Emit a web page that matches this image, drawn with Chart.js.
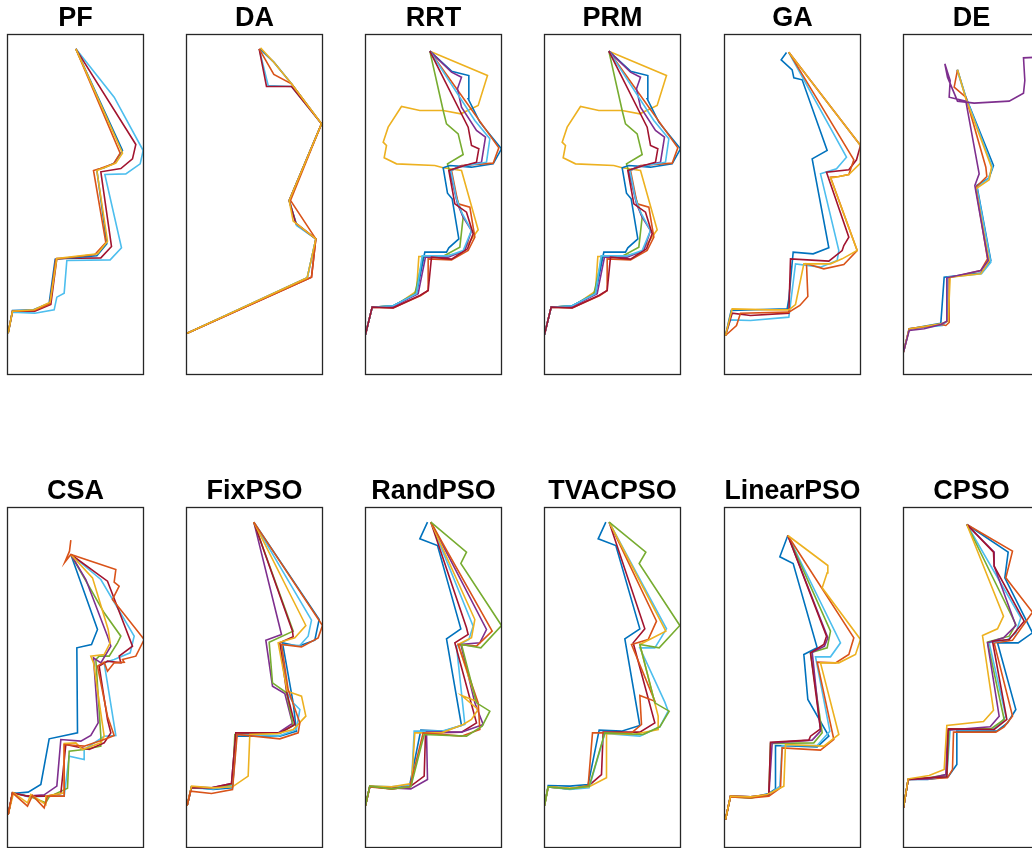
<!DOCTYPE html>
<html>
<head>
<meta charset="utf-8">
<script src="https://cdn.jsdelivr.net/npm/chart.js@4/dist/chart.umd.min.js"></script>
<style>
  html, body { margin: 0; padding: 0; background: #fff; overflow: hidden; width: 1032px; height: 848px; }
  .cell { position: absolute; }
</style>
</head>
<body>
<script>
// Planned routes per algorithm; each array is a polyline of x,y pairs in map units
// (map is 408 wide by 1020 tall, y grows downward).

// PF
const PF_sky    = [12,908, 25,845, 92,848, 150,838, 158,800, 180,788, 188,690, 318,688, 352,652, 302,432, 365,430, 408,400, 417,360, 330,200, 215,55];
const PF_wine   = [12,908, 25,842, 92,842, 140,822, 158,684, 290,682, 322,648, 290,424, 350,414, 385,385, 395,342, 215,55];
const PF_blue   = [12,908, 25,840, 88,838, 135,818, 153,686, 278,676, 308,640, 278,418, 300,412, 330,398, 355,360, 215,55];
const PF_orange = [12,908, 25,842, 90,840, 137,820, 155,686, 272,672, 305,636, 268,420, 288,414, 328,400, 348,368, 215,55];
const PF_yellow = [12,908, 25,842, 90,838, 138,815, 158,684, 280,670, 310,632, 278,420, 300,412, 335,398, 355,368, 215,55];

// DA
const DA_blue   = [12,908, 372,742, 398,625, 340,582, 318,510, 415,280, 325,160, 272,95, 230,55];
const DA_sky    = [12,908, 372,744, 398,625, 340,585, 318,510, 415,280, 325,168, 255,165, 228,55];
const DA_wine   = [12,908, 385,740, 398,625, 338,578, 318,510, 415,280, 325,168, 250,168, 228,55];
const DA_orange = [12,908, 385,740, 398,625, 322,510, 415,280, 325,160, 272,132, 228,55];
const DA_yellow = [12,908, 372,742, 398,625, 330,572, 318,510, 415,280, 325,160, 272,95, 232,52];

// RRT (PRM produced the same routes)
const RRT_yellow = [12,912, 32,830, 100,826, 165,782, 172,678, 232,678, 300,668, 350,598, 300,420, 245,412, 220,405, 105,400, 68,382, 75,345, 65,335, 80,290, 120,228, 175,240, 245,240, 298,250, 350,225, 378,135, 205,62];
const RRT_green  = [12,912, 32,830, 95,826, 160,790, 185,680, 240,680, 295,650, 305,560, 285,500, 258,400, 305,372, 290,310, 255,280, 245,240, 205,62];
const RRT_blue   = [12,912, 32,830, 95,826, 165,790, 190,665, 255,665, 262,652, 292,625, 272,505, 258,488, 245,412, 265,405, 330,410, 395,400, 420,355, 355,275, 320,205, 322,135, 270,122, 205,62];
const RRT_orange = [12,912, 32,830, 95,832, 178,795, 200,780, 200,685, 270,688, 320,660, 340,620, 325,530, 290,520, 270,420, 300,405, 395,398, 412,352, 205,62];
const RRT_purple = [12,912, 32,830, 95,828, 170,790, 192,680, 260,680, 310,660, 330,600, 305,560, 288,520, 265,420, 295,408, 360,395, 372,320, 345,300, 300,230, 288,175, 300,140, 270,125, 205,62];
const RRT_sky    = [12,912, 32,830, 95,826, 165,790, 182,676, 260,676, 305,660, 330,600, 300,545, 285,505, 268,420, 300,408, 375,395, 385,325, 340,270, 205,62];
const RRT_wine   = [12,912, 32,830, 95,832, 175,795, 200,780, 210,680, 270,686, 318,655, 335,610, 315,545, 280,520, 262,420, 310,405, 345,395, 352,355, 330,345, 320,290, 205,62];

// GA
const GA_blue   = [15,915, 32,840, 200,835, 205,805, 218,665, 278,670, 325,652, 275,385, 320,360, 245,148, 220,142, 215,118, 182,88, 198,66];
const GA_sky    = [15,915, 30,868, 90,870, 205,860, 210,820, 225,700, 300,710, 350,690, 355,660, 300,430, 348,415, 378,380, 205,66];
const GA_wine   = [15,915, 35,848, 90,855, 205,848, 210,685, 325,692, 365,660, 370,645, 385,620, 318,425, 385,418, 408,388, 420,345, 205,65];
const GA_orange = [15,915, 48,885, 60,848, 205,845, 238,825, 262,798, 258,700, 310,715, 370,702, 410,660, 330,440, 355,438, 385,432, 400,388, 205,65];
const GA_yellow = [15,915, 35,835, 150,838, 205,838, 225,822, 250,700, 330,700, 365,685, 410,660, 330,442, 345,440, 385,432, 420,398, 420,345, 205,65];

// DE
const DE_blue   = [18,965, 35,895, 130,878, 140,740, 250,728, 280,690, 238,465, 275,442, 288,405, 205,200, 180,118];
const DE_sky    = [18,965, 35,895, 135,885, 150,870, 150,740, 252,730, 280,695, 238,470, 272,445, 285,410, 205,200, 178,118];
const DE_orange = [18,965, 35,895, 130,882, 145,885, 155,876, 155,742, 250,720, 270,685, 235,470, 268,438, 265,410, 205,200, 170,170, 180,118];
const DE_yellow = [18,965, 35,895, 130,880, 152,872, 158,740, 250,730, 275,692, 235,475, 275,448, 282,410, 205,205, 180,118];
const DE_purple = [18,965, 35,900, 80,895, 130,882, 148,872, 148,742, 250,720, 272,690, 232,465, 245,430, 205,212, 155,200, 158,150, 142,100, 150,140, 180,212, 230,218, 335,212, 378,188, 382,150, 378,82, 426,80];

// CSA
const CSA_blue   = [12,935, 25,872, 72,868, 110,845, 135,708, 220,690, 218,435, 262,425, 280,380, 200,155];
const CSA_sky    = [12,935, 25,870, 75,882, 120,880, 180,880, 195,760, 240,770, 240,740, 300,700, 335,698, 300,480, 330,470, 378,450, 390,400, 290,230, 200,155];
const CSA_green  = [12,935, 25,870, 75,880, 125,900, 135,882, 190,856, 195,745, 240,740, 290,730, 290,700, 275,470, 285,460, 315,460, 340,420, 350,400, 300,330, 200,155];
const CSA_purple = [12,935, 25,870, 72,880, 120,876, 158,850, 170,710, 230,715, 260,698, 282,660, 268,465, 290,480, 305,455, 320,430, 310,400, 245,230, 200,155];
const CSA_wine   = [12,935, 25,870, 70,880, 125,880, 170,872, 185,725, 255,740, 300,720, 320,690, 310,650, 285,490, 310,475, 350,480, 345,460, 385,430, 310,235, 200,155];
const CSA_yellow = [12,935, 28,870, 70,900, 80,875, 125,905, 125,880, 180,870, 180,722, 215,720, 235,740, 290,720, 300,700, 268,480, 260,460, 300,455, 318,420, 312,380, 265,225, 200,155];
const CSA_orange = [12,935, 25,870, 70,910, 85,878, 120,915, 130,880, 180,880, 180,725, 240,730, 300,710, 330,698, 310,640, 280,490, 300,478, 310,505, 330,480, 360,478, 355,470, 395,460, 420,410, 325,290, 345,250, 330,238, 335,200, 200,155, 182,178, 196,145, 200,112];

// FixPSO
const Fix_purple = [12,908, 25,852, 85,855, 145,842, 158,690, 285,690, 328,662, 305,572, 268,550, 248,412, 295,395, 212,58];
const Fix_green  = [12,908, 25,852, 90,858, 148,845, 155,695, 290,692, 330,668, 310,570, 268,540, 258,418, 330,385, 212,58];
const Fix_blue   = [12,908, 25,852, 90,860, 148,855, 160,700, 290,700, 340,685, 330,600, 298,420, 345,430, 395,412, 408,350, 212,58];
const Fix_sky    = [12,908, 25,855, 90,858, 148,850, 160,695, 285,700, 340,680, 350,620, 330,600, 312,570, 295,425, 350,428, 375,400, 385,352, 212,58];
const Fix_wine   = [12,908, 25,855, 85,855, 145,842, 158,690, 290,690, 335,665, 310,565, 290,420, 330,402, 328,385, 212,58];
const Fix_yellow = [12,908, 25,850, 90,855, 148,852, 195,820, 200,695, 285,692, 330,680, 368,640, 355,580, 312,565, 285,420, 335,405, 368,368, 212,58];
const Fix_orange = [12,908, 22,865, 85,872, 148,860, 162,695, 290,708, 345,690, 350,660, 315,560, 295,425, 355,432, 405,405, 418,368, 212,58];

// RandPSO
const Rand_blue   = [12,908, 25,850, 90,855, 145,845, 178,682, 245,685, 300,668, 255,408, 298,378, 228,128, 175,108, 198,58];
const Rand_sky    = [12,908, 25,850, 90,852, 150,845, 158,685, 240,685, 310,665, 285,430, 322,410, 335,370, 208,58];
const Rand_wine   = [12,908, 25,850, 90,858, 145,852, 188,820, 192,690, 300,688, 345,660, 280,420, 320,395, 315,375, 208,58];
const Rand_purple = [12,908, 25,852, 90,855, 148,858, 198,830, 195,688, 300,688, 365,665, 340,600, 298,425, 355,420, 375,380, 208,58];
const Rand_yellow = [12,908, 25,850, 90,852, 150,842, 160,690, 240,690, 305,665, 330,650, 350,620, 300,578, 345,595, 290,425, 330,405, 340,350, 208,58];
const Rand_orange = [12,908, 25,852, 90,858, 145,852, 185,690, 300,700, 355,680, 350,600, 290,425, 345,430, 392,385, 208,58];
const Rand_green  = [12,908, 25,850, 90,858, 148,852, 188,695, 315,700, 362,670, 385,625, 345,600, 300,425, 358,435, 420,368, 298,182, 315,148, 208,58];

// TVACPSO
const TV_blue   = [14,908, 25,848, 90,850, 145,845, 178,682, 245,685, 300,668, 255,408, 300,378, 228,128, 175,108, 198,58];
const TV_wine   = [14,908, 25,852, 90,858, 145,850, 185,815, 190,688, 300,688, 345,660, 280,420, 315,378, 208,58];
const TV_orange = [14,908, 25,852, 90,858, 145,848, 158,690, 275,690, 305,665, 300,578, 345,595, 275,425, 325,410, 350,355, 208,58];
const TV_sky    = [14,908, 25,852, 90,860, 148,855, 195,692, 300,700, 360,672, 385,625, 375,598, 300,435, 345,435, 380,378, 208,58];
const TV_yellow = [14,908, 25,852, 90,856, 148,852, 200,825, 200,692, 280,695, 355,680, 355,640, 300,425, 378,385, 208,58];
const TV_green  = [14,908, 25,852, 90,858, 148,850, 195,690, 310,695, 360,672, 388,625, 345,600, 300,425, 358,435, 420,368, 298,182, 318,148, 208,58];

// LinearPSO
const Lin_blue   = [15,950, 30,880, 90,885, 145,872, 165,858, 165,728, 290,732, 325,700, 262,590, 250,455, 290,435, 218,182, 178,162, 202,98];
const Lin_sky    = [15,950, 30,880, 90,882, 145,876, 178,850, 185,728, 290,728, 328,685, 285,462, 330,462, 360,420, 202,98];
const Lin_green  = [15,950, 30,882, 92,885, 145,875, 150,722, 280,720, 305,690, 270,450, 320,435, 330,385, 202,98];
const Lin_purple = [15,950, 30,880, 90,882, 145,878, 155,720, 275,712, 300,685, 275,448, 312,430, 322,405, 202,98];
const Lin_wine   = [15,950, 30,880, 90,882, 145,875, 150,718, 265,712, 270,700, 300,678, 270,450, 310,425, 318,400, 202,98];
const Lin_orange = [15,950, 30,882, 90,885, 145,880, 180,855, 185,735, 300,742, 340,710, 290,478, 345,480, 385,455, 400,405, 202,98];
const Lin_yellow = [15,950, 30,880, 90,882, 140,875, 190,850, 195,725, 310,730, 355,695, 300,480, 355,480, 405,455, 420,410, 305,255, 320,210, 322,188, 202,98];

// CPSO
const CP_blue   = [18,915, 32,830, 90,830, 152,822, 178,785, 178,685, 298,685, 330,660, 355,620, 300,420, 362,420, 405,390, 322,225, 332,148, 208,65];
const CP_orange = [18,915, 32,830, 90,828, 150,825, 165,800, 168,688, 295,688, 320,672, 345,640, 290,420, 345,412, 405,328, 325,225, 345,145, 208,65];
const CP_sky    = [18,915, 32,830, 90,828, 148,818, 158,680, 285,680, 310,660, 325,640, 275,420, 330,410, 355,390, 370,345, 208,65];
const CP_green  = [18,915, 32,830, 95,825, 148,815, 155,678, 280,678, 320,650, 270,418, 335,400, 355,365, 208,65];
const CP_purple = [18,915, 32,830, 90,828, 145,815, 150,682, 278,672, 305,640, 270,420, 318,405, 355,368, 290,190, 290,148, 208,65];
const CP_wine   = [18,915, 32,830, 90,825, 148,822, 152,678, 290,680, 328,650, 285,415, 335,410, 380,355, 290,190, 288,148, 208,65];
const CP_yellow = [18,915, 32,828, 95,818, 140,800, 148,668, 258,656, 288,622, 255,398, 300,378, 318,340, 208,65];

// Line colours
const COLORS = {
  blue: '#0072BD', orange: '#D95319', yellow: '#EDB120', purple: '#7E2F8E',
  green: '#77AC30', sky: '#4DBEEE', wine: '#A2142F'
};

// Panel titles, routes (drawn in listed order, later on top) and map window origin
const titles = ['PF', 'DA', 'RRT', 'PRM', 'GA', 'DE', 'CSA', 'FixPSO', 'RandPSO', 'TVACPSO', 'LinearPSO', 'CPSO'];
const routes = [
  [[PF_sky,'sky'],[PF_wine,'wine'],[PF_blue,'blue'],[PF_orange,'orange'],[PF_yellow,'yellow']],
  [[DA_blue,'blue'],[DA_sky,'sky'],[DA_wine,'wine'],[DA_orange,'orange'],[DA_yellow,'yellow']],
  [[RRT_yellow,'yellow'],[RRT_green,'green'],[RRT_blue,'blue'],[RRT_orange,'orange'],[RRT_purple,'purple'],[RRT_sky,'sky'],[RRT_wine,'wine']],
  [[RRT_yellow,'yellow'],[RRT_green,'green'],[RRT_blue,'blue'],[RRT_orange,'orange'],[RRT_purple,'purple'],[RRT_sky,'sky'],[RRT_wine,'wine']],
  [[GA_blue,'blue'],[GA_sky,'sky'],[GA_wine,'wine'],[GA_orange,'orange'],[GA_yellow,'yellow']],
  [[DE_blue,'blue'],[DE_sky,'sky'],[DE_orange,'orange'],[DE_yellow,'yellow'],[DE_purple,'purple']],
  [[CSA_blue,'blue'],[CSA_sky,'sky'],[CSA_green,'green'],[CSA_purple,'purple'],[CSA_wine,'wine'],[CSA_yellow,'yellow'],[CSA_orange,'orange']],
  [[Fix_purple,'purple'],[Fix_green,'green'],[Fix_blue,'blue'],[Fix_sky,'sky'],[Fix_wine,'wine'],[Fix_yellow,'yellow'],[Fix_orange,'orange']],
  [[Rand_blue,'blue'],[Rand_sky,'sky'],[Rand_wine,'wine'],[Rand_purple,'purple'],[Rand_yellow,'yellow'],[Rand_orange,'orange'],[Rand_green,'green']],
  [[TV_blue,'blue'],[TV_wine,'wine'],[TV_orange,'orange'],[TV_sky,'sky'],[TV_yellow,'yellow'],[TV_green,'green']],
  [[Lin_blue,'blue'],[Lin_sky,'sky'],[Lin_green,'green'],[Lin_purple,'purple'],[Lin_wine,'wine'],[Lin_orange,'orange'],[Lin_yellow,'yellow']],
  [[CP_blue,'blue'],[CP_orange,'orange'],[CP_sky,'sky'],[CP_green,'green'],[CP_purple,'purple'],[CP_wine,'wine'],[CP_yellow,'yellow']]
];
const mapX0 = [10, 10, 12, 12, 12, 18, 10, 10, 12, 14, 12, 18];
const mapY0 = [12, 12, 12, 12, 12, 12, 14, 14, 14, 14, 14, 14];
const MAP_W = 408, MAP_H = 1020;

// Page layout of the 2 x 6 grid (canvas origins, px)
const colLeft = [-13, 166, 345, 524, 704, 883];
const rowTop = [0, 473];
const CANVAS_W = 177, CANVAS_H = 376;

// Box around each map area
const frame = {
  id: 'frame',
  afterDraw(chart) {
    const a = chart.chartArea, ctx = chart.ctx;
    ctx.save();
    ctx.strokeStyle = '#262626';
    ctx.lineWidth = 1.3;
    ctx.strokeRect(a.left, a.top, a.right - a.left, a.bottom - a.top);
    ctx.restore();
  }
};

function toPoints(flat) {
  const pts = [];
  for (let i = 0; i < flat.length; i += 2) pts.push({ x: flat[i], y: flat[i + 1] });
  return pts;
}

titles.forEach((title, k) => {
  const col = k % 6, row = Math.floor(k / 6);
  const cell = document.createElement('div');
  cell.className = 'cell';
  cell.style.left = colLeft[col] + 'px';
  cell.style.top = rowTop[row] + 'px';
  const cv = document.createElement('canvas');
  cv.width = CANVAS_W; cv.height = CANVAS_H;
  cv.style.width = CANVAS_W + 'px'; cv.style.height = CANVAS_H + 'px';
  cell.appendChild(cv);
  document.body.appendChild(cell);

  // Chart.js paints dataset 0 last, so reverse to keep the listed stacking
  const datasets = routes[k].map(([flat, c]) => ({
    data: toPoints(flat),
    showLine: true,
    borderColor: COLORS[c],
    backgroundColor: COLORS[c],
    borderWidth: 1.6,
    pointRadius: 0,
    tension: 0,
    fill: false
  })).reverse();

  new Chart(cv, {
    type: 'scatter',
    data: { datasets },
    options: {
      responsive: false,
      animation: false,
      devicePixelRatio: 1,
      events: [],
      layout: { autoPadding: false, padding: { left: 20.5, right: 20.5, top: 0, bottom: 1.5 } },
      scales: {
        x: { type: 'linear', display: false, min: mapX0[k], max: mapX0[k] + MAP_W },
        y: { type: 'linear', display: false, reverse: true, min: mapY0[k], max: mapY0[k] + MAP_H }
      },
      plugins: {
        legend: { display: false },
        tooltip: { enabled: false },
        title: {
          display: true,
          text: title,
          color: '#000',
          font: { family: "'Liberation Sans', Arial, sans-serif", size: 27, weight: 'bold', lineHeight: 1.2 },
          padding: { top: 2.1, bottom: 0 }
        }
      }
    },
    plugins: [frame]
  });
});
</script>
</body>
</html>
